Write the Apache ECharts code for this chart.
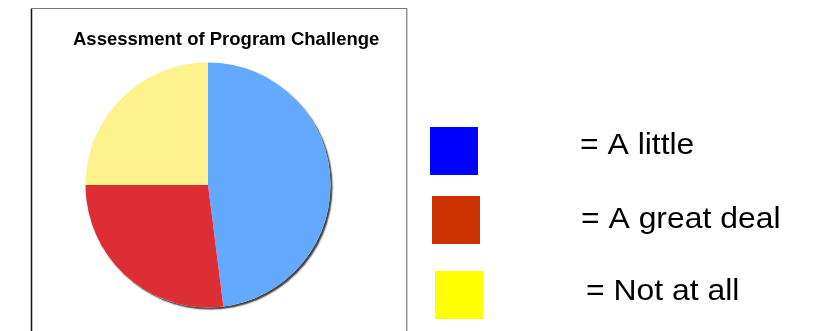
<!DOCTYPE html>
<html>
<head>
<meta charset="utf-8">
<script src="https://cdn.jsdelivr.net/npm/echarts@6/dist/echarts.min.js"></script>
<style>
  html, body { margin: 0; padding: 0; background: #ffffff; }
  #chart { width: 813px; height: 331px; }
</style>
</head>
<body>
<div id="chart"></div>
<script>
// Survey responses (percent of respondents)
var categories = ['A little', 'A great deal', 'Not at all'];
var values = [48, 27, 25];
var sliceColors = ['#63A9FE', '#DC2E34', '#FEF28C'];

// Key shown beside the chart box
var keyLabels = ['= A little', '= A great deal', '= Not at all'];
var keyColors = ['#0000FF', '#CC3300', '#FFFF00'];

var chartTitle = 'Assessment of Program Challenge';

var chart = echarts.init(document.getElementById('chart'), null, { renderer: 'canvas' });

var FONT = '"Liberation Sans", Arial, Helvetica, sans-serif';
var pieCenter = [208, 185];
var pieRadius = 122.5;

// Key swatches and labels
var keySwatchPos = [[430, 127], [432, 196], [435, 271]];
var keyTextPos = [[580, 145.5], [581, 219.5], [586, 291.5]];
var keyGraphics = [];
keyLabels.forEach(function (label, i) {
  keyGraphics.push({
    type: 'rect',
    shape: { x: keySwatchPos[i][0], y: keySwatchPos[i][1], width: 48, height: 48 },
    style: { fill: keyColors[i] },
    silent: true
  });
  keyGraphics.push({
    type: 'text',
    x: keyTextPos[i][0],
    y: keyTextPos[i][1],
    scaleX: 1.1,
    style: {
      text: label,
      fill: '#000000',
      font: '29px ' + FONT,
      textAlign: 'left',
      textVerticalAlign: 'middle'
    },
    silent: true
  });
});

// Chart frame: dark left edge, grey top and right edges
var frameGraphics = [
  { type: 'line', shape: { x1: 31.5, y1: 8.5, x2: 31.5, y2: 331 }, style: { stroke: '#111111', lineWidth: 1.5 }, silent: true },
  { type: 'line', shape: { x1: 31, y1: 8.5, x2: 407, y2: 8.5 }, style: { stroke: '#7a7a7a', lineWidth: 1.2 }, silent: true },
  { type: 'line', shape: { x1: 406.8, y1: 8.5, x2: 406.8, y2: 331 }, style: { stroke: '#7a7a7a', lineWidth: 1.2 }, silent: true },
  {
    type: 'text', x: 73, y: 40,
    style: { text: chartTitle, fill: '#000000', font: 'bold 18.5px ' + FONT, textAlign: 'left', textVerticalAlign: 'middle' },
    silent: true
  }
];

var option = {
  backgroundColor: '#ffffff',
  animation: false,
  graphic: frameGraphics.concat(keyGraphics),
  series: [
    {
      // drop shadow disc behind the pie
      type: 'pie',
      silent: true,
      center: pieCenter,
      radius: pieRadius,
      label: { show: false },
      labelLine: { show: false },
      data: [{ value: 1, name: 'shadow' }],
      itemStyle: {
        color: '#ffffff',
        shadowColor: 'rgba(0,0,0,0.75)',
        shadowBlur: 1.5,
        shadowOffsetX: 2,
        shadowOffsetY: 2
      },
      emphasis: { disabled: true }
    },
    {
      type: 'pie',
      center: pieCenter,
      radius: pieRadius,
      startAngle: 90,
      clockwise: true,
      label: { show: false },
      labelLine: { show: false },
      itemStyle: { borderWidth: 0 },
      emphasis: { disabled: true },
      data: categories.map(function (name, i) {
        return { name: name, value: values[i], itemStyle: { color: sliceColors[i] } };
      })
    }
  ]
};

chart.setOption(option);
</script>
</body>
</html>
